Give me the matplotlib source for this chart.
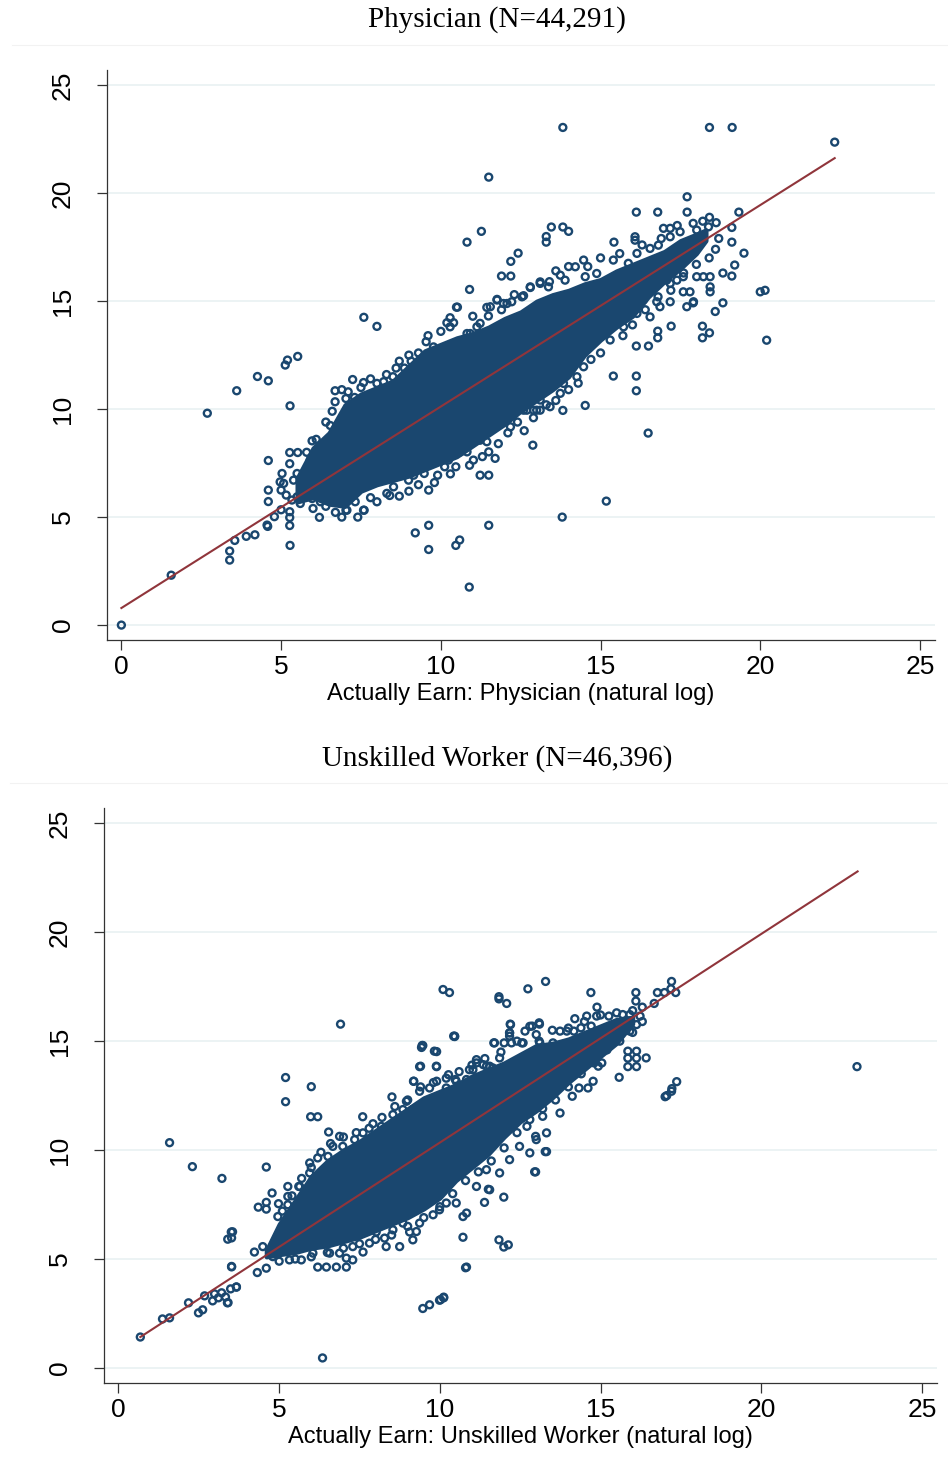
import numpy as np
import matplotlib
matplotlib.use('Agg')
import matplotlib.pyplot as plt
from matplotlib.lines import Line2D

plt.rcParams['font.family'] = ['Liberation Sans', 'DejaVu Sans']

NAVY = '#1a476f'
MAROON = '#90353b'
GRID = '#eaf2f3'

# ---------------- Physician panel ----------------
phys_title = 'Physician (N=44,291)'
phys_xlabel = 'Actually Earn: Physician (natural log)'

# dense core of the cloud (x, lower edge, upper edge)
phys_core_x = [5.5, 6.0, 6.5, 7.0, 7.5, 8.0, 8.5, 9.0, 9.5, 10.0, 10.5, 11.0, 11.5, 12.0,
               12.5, 13.0, 13.5, 14.0, 14.5, 15.0, 15.5, 16.0, 16.5, 17.0, 17.5, 18.0, 18.3]
phys_core_lo = [5.7, 5.9, 5.6, 5.5, 6.2, 6.5, 6.7, 6.9, 7.2, 7.5, 7.8, 8.3, 8.8, 9.3,
                9.9, 10.4, 10.9, 11.5, 12.5, 13.2, 13.8, 14.3, 15.2, 15.9, 16.5, 17.2, 17.8]
phys_core_hi = [6.8, 8.2, 8.9, 10.2, 10.7, 11.0, 11.3, 12.0, 12.7, 13.0, 13.3, 13.5, 13.8, 14.2,
                14.5, 15.0, 15.3, 15.5, 15.8, 16.0, 16.4, 16.7, 17.0, 17.3, 17.8, 18.1, 18.3]

# individual observations around and outside the core
phys_pts = [
    (0.0, 0.0), (1.56, 2.31), (2.69, 9.81), (3.61, 10.85), (4.26, 11.51), (4.6, 11.31),
    (3.39, 3.43), (3.39, 3.01), (3.55, 3.92), (3.91, 4.11), (4.18, 4.18),
    (4.56, 4.63), (4.58, 4.57), (5.28, 3.69), (5.27, 4.61), (5.27, 4.98), (5.27, 5.25),
    (4.79, 5.02), (5.0, 5.34), (4.6, 5.72), (4.6, 6.25), (4.6, 7.62), (5.27, 7.47),
    (5.27, 7.99), (5.52, 7.99), (5.28, 10.15), (5.13, 12.04), (5.2, 12.27), (5.52, 12.44),
    (7.59, 14.25), (8.0, 13.83), (10.9, 15.54),
    (9.2, 4.27), (9.62, 4.62), (9.62, 3.5), (10.47, 3.69), (10.59, 3.94), (11.5, 4.62),
    (12.88, 8.33), (12.61, 9.0), (12.18, 9.18), (10.89, 1.76), (15.18, 5.74), (13.8, 5.0),
    (16.49, 8.89), (20.15, 15.5), (20.2, 13.19),
    (13.82, 23.04), (18.41, 23.04), (19.12, 23.04), (22.33, 22.36), (11.5, 20.74),
    (17.71, 19.83), (16.12, 19.12), (16.79, 19.12), (17.71, 19.12), (19.33, 19.12),
    (11.27, 18.23), (10.82, 17.73), (13.46, 18.43), (13.82, 18.43), (14.0, 18.23),
    (13.3, 17.99), (13.3, 17.73), (12.42, 17.22), (12.19, 16.84), (11.9, 16.16),
    (12.19, 16.16), (10.49, 14.72), (15.42, 17.73),
    (18.41, 18.88), (18.62, 18.63), (19.11, 18.41), (19.11, 17.73), (19.49, 17.22),
    (19.2, 16.67), (19.11, 16.16), (18.83, 16.3), (20.0, 15.43),
    (18.83, 14.92), (18.59, 14.52), (18.19, 13.84), (18.41, 13.53), (18.19, 13.3),
    (17.9, 14.92), (17.7, 14.74), (17.21, 13.84), (16.79, 13.61), (16.79, 13.3),
    (16.5, 12.92), (16.12, 12.92), (15.4, 11.53), (16.12, 11.53), (16.12, 10.85),
    (14.52, 10.17), (13.82, 9.94),
    # upper halo, left half
    (5.97, 8.53), (6.0, 7.79), (6.2, 8.02), (6.54, 9.24), (6.69, 10.85), (6.69, 10.34),
    (7.03, 10.49), (7.3, 10.54), (7.24, 11.37), (7.58, 11.23), (8.0, 11.19), (8.21, 11.27),
    (8.5, 11.5), (8.7, 12.22), (9.07, 12.22), (8.86, 11.9), (9.54, 13.12), (9.77, 12.88),
    (10.19, 14.0), (10.29, 14.23), (10.52, 14.72), (10.82, 13.5), (11.13, 13.81),
    (11.44, 14.71), (11.49, 14.31), (11.76, 15.08), (12.07, 14.89), (12.59, 15.25),
    (12.8, 15.63), (13.11, 15.82),
    (5.8, 8.0), (6.1, 8.6), (6.4, 9.4), (6.6, 9.9), (6.9, 10.9), (7.1, 10.8), (7.5, 11.0),
    (7.8, 11.4), (8.3, 11.6), (8.6, 11.9), (9.0, 12.5), (9.3, 12.6), (9.6, 13.4),
    (10.0, 13.6), (10.4, 14.0), (11.0, 14.3), (11.9, 14.6), (12.3, 15.3),
    # lower halo, left half
    (5.91, 7.64), (5.97, 7.18), (6.17, 6.48), (6.43, 6.1), (6.69, 6.71), (6.75, 5.94),
    (7.06, 5.32), (7.32, 5.71), (7.58, 5.32), (7.9, 6.63), (8.16, 6.71), (8.31, 6.1),
    (8.52, 6.4), (8.7, 5.97), (8.99, 6.71), (9.15, 6.94), (9.48, 7.02), (9.62, 6.25),
    (9.9, 6.94), (10.12, 7.33), (10.24, 7.64), (10.47, 7.33), (10.61, 8.02), (10.82, 8.02),
    (11.02, 7.64), (11.23, 6.94), (11.5, 6.94), (11.5, 8.02), (11.7, 7.72), (11.91, 9.64),
    (12.17, 9.95), (12.59, 9.95), (12.9, 9.95), (13.11, 9.95), (13.11, 10.42),
    (11.44, 8.49), (11.23, 8.56), (10.71, 8.56), (11.13, 9.03), (6.2, 4.99), (6.7, 5.22),
    (7.03, 5.32), (7.6, 5.32), (8.0, 5.71),
    (5.03, 7.02), (5.08, 6.56), (5.0, 6.25), (5.16, 6.02), (5.34, 5.79), (5.39, 6.71),
    (5.5, 7.02), (5.6, 6.71), (5.7, 7.02), (4.97, 6.63), (5.97, 5.86), (6.23, 5.71),
    (5.6, 5.63), (5.5, 5.94),
    (6.0, 5.4), (6.4, 5.5), (6.9, 5.0), (7.4, 5.0), (7.8, 5.9), (8.4, 6.0), (9.0, 6.2),
    (9.3, 6.5), (9.8, 6.6), (10.3, 7.0), (10.9, 7.4), (11.3, 7.8), (11.8, 8.4), (12.1, 8.9),
    (12.4, 9.4), (12.9, 9.6), (13.3, 10.2), (13.6, 10.4),
    # upper halo, right half
    (11.76, 15.05), (11.96, 14.89), (12.22, 14.97), (12.54, 15.2), (12.8, 15.66),
    (13.11, 15.89), (13.37, 15.66), (13.74, 16.2), (13.89, 15.97), (14.21, 16.59),
    (14.47, 16.9), (14.52, 16.13), (14.88, 16.28), (15.4, 16.9), (15.87, 16.75),
    (16.14, 17.21), (16.55, 17.44), (16.81, 17.59), (17.18, 17.98), (17.49, 18.21),
    (18.01, 18.29), (18.38, 18.44), (17.18, 18.37), (16.97, 18.37), (16.08, 17.98),
    (16.08, 17.82), (11.55, 14.74), (11.23, 13.97), (10.92, 13.5), (10.71, 12.73),
    (10.5, 12.73), (10.29, 13.81),
    (13.4, 15.9), (13.6, 16.4), (14.0, 16.6), (14.6, 16.6), (15.0, 17.0), (15.6, 17.2),
    (16.3, 17.6), (16.9, 17.9), (17.4, 18.5), (17.9, 18.6), (18.2, 18.7),
    # lower halo, right half
    (16.76, 16.13), (17.07, 15.97), (17.59, 16.13), (18.01, 16.13), (18.22, 16.13),
    (18.43, 16.13), (18.43, 15.66), (18.43, 15.43), (17.59, 15.43), (17.8, 15.43),
    (17.91, 14.97), (17.18, 14.97), (16.76, 14.97), (16.34, 15.05), (16.14, 14.43),
    (15.72, 13.81), (15.3, 13.81), (14.88, 13.5), (14.57, 13.5), (14.47, 12.88),
    (14.47, 11.96), (14.26, 11.5), (13.84, 11.19), (13.74, 10.73), (13.42, 10.11),
    (12.69, 9.95), (13.0, 9.95), (12.38, 9.95), (12.07, 9.64), (11.55, 9.8),
    (17.18, 15.82), (17.39, 15.97), (16.55, 14.27), (16.86, 14.74),
    (14.0, 10.9), (14.3, 11.2), (14.7, 12.3), (15.0, 12.6), (15.3, 13.2), (15.7, 13.4),
    (16.0, 13.9), (16.4, 14.6), (16.8, 15.2), (17.2, 15.5), (17.6, 16.3), (18.0, 16.7),
    (18.4, 17.0), (18.6, 17.4), (18.7, 17.9),
]
phys_fit_x = [0.0, 22.33]
phys_fit_y = [0.79, 21.62]

# ---------------- Unskilled worker panel ----------------
unsk_title = 'Unskilled Worker (N=46,396)'
unsk_xlabel = 'Actually Earn: Unskilled Worker (natural log)'

unsk_core_x = [4.6, 5.0, 5.5, 6.0, 6.5, 7.0, 7.5, 8.0, 8.5, 9.0, 9.5, 10.0, 10.5, 11.0,
               11.5, 12.0, 12.5, 13.0, 13.5, 14.0, 14.5, 15.0, 15.5, 16.0]
unsk_core_lo = [5.1, 5.2, 5.3, 5.5, 5.6, 5.8, 6.0, 6.3, 6.6, 6.9, 7.3, 7.8, 8.6, 9.2,
                9.8, 10.6, 11.3, 11.8, 12.4, 13.1, 13.7, 14.3, 14.9, 15.8]
unsk_core_hi = [5.4, 6.6, 7.7, 8.8, 9.5, 10.0, 10.4, 10.9, 11.4, 11.9, 12.4, 12.7, 13.0, 13.4,
                13.7, 14.0, 14.4, 14.8, 14.9, 15.1, 15.4, 15.7, 16.0, 16.1]

unsk_pts = [
    (0.68, 1.42), (1.37, 2.25), (1.59, 2.3), (1.59, 10.34), (2.3, 9.24), (3.22, 8.7),
    (2.18, 2.99), (2.49, 2.53), (2.62, 2.67), (2.68, 3.31), (2.93, 3.08), (2.99, 3.4),
    (3.21, 3.45), (3.33, 3.26), (3.39, 2.99), (3.49, 3.63), (3.67, 3.72), (3.11, 3.22),
    (3.52, 5.97), (3.55, 6.25), (3.52, 4.64),
    (6.91, 15.78), (5.2, 13.33), (5.2, 12.22), (6.0, 12.91), (5.98, 11.53), (6.2, 11.53),
    (6.35, 0.46), (9.68, 2.9), (10.02, 3.13), (10.12, 3.22), (10.8, 4.6), (22.98, 13.83),
    (17.06, 12.5), (17.22, 12.82), (17.37, 13.14), (12.95, 9.0), (13.32, 9.93),
    (10.1, 17.37), (10.3, 17.23), (11.84, 17.04), (11.84, 16.94), (12.08, 16.73),
    (12.74, 17.4), (13.29, 17.74), (14.7, 17.23), (14.89, 16.56), (14.2, 16.03),
    (14.57, 16.15), (16.1, 17.23), (16.1, 16.84), (16.3, 16.56), (16.77, 17.23),
    (16.99, 17.23), (17.21, 17.74), (17.19, 17.4), (17.34, 17.23), (16.67, 16.73),
    (15.85, 14.54), (16.12, 14.54), (15.85, 14.22), (16.12, 14.22), (16.42, 14.23),
    (15.85, 13.83), (16.12, 13.83), (15.58, 13.34), (17.01, 12.45), (17.21, 12.7),
    (10.46, 15.21), (9.43, 14.71),
    (6.54, 10.83), (7.6, 11.53), (4.6, 9.22), (3.51, 6.24), (3.4, 5.91), (3.52, 4.66),
    (3.67, 3.71), (3.41, 3.0), (4.6, 7.6), (4.35, 7.38), (4.6, 7.29), (4.78, 8.03),
    (4.23, 5.32), (4.32, 4.38), (4.6, 4.58), (5.27, 8.33), (5.61, 8.33), (5.27, 7.87),
    (4.98, 7.54),
    (6.2, 4.63), (6.47, 4.63), (6.78, 4.63), (7.09, 4.63), (9.47, 2.73), (9.99, 3.11),
    (10.12, 3.25), (10.83, 4.63), (10.72, 6.0), (11.84, 5.88), (11.99, 5.55), (12.13, 5.65),
    (11.99, 7.84), (12.98, 9.0), (13.28, 9.93), (11.39, 7.6), (11.51, 8.2),
    (9.45, 14.8), (9.9, 14.52), (10.46, 15.23), (9.37, 13.83), (9.9, 13.83), (8.51, 12.44),
    (9.19, 13.16), (9.9, 13.16), (12.19, 15.78), (13.1, 15.78), (11.7, 14.92), (12.17, 15.38),
    # upper halo, left half
    (4.96, 6.95), (5.27, 7.49), (5.64, 8.33), (5.95, 8.95), (5.95, 9.41), (6.2, 9.64),
    (6.52, 9.71), (6.67, 10.17), (6.88, 10.63), (6.98, 10.17), (7.35, 10.48), (7.61, 10.79),
    (7.92, 11.21), (8.18, 11.09), (8.54, 11.63), (8.85, 11.86), (8.96, 12.24), (9.16, 11.86),
    (9.37, 12.7), (9.68, 12.85), (9.79, 12.32), (10.2, 12.85), (10.51, 13.16), (10.83, 13.24),
    (11.14, 14.0), (11.45, 13.85), (11.65, 13.77), (11.86, 14.23), (12.17, 15.38),
    (12.23, 14.92), (12.59, 14.92), (12.8, 15.68), (13.11, 14.92), (12.9, 13.85),
    (12.48, 13.85), (11.55, 13.85),
    (5.1, 7.2), (5.4, 7.9), (5.7, 8.7), (6.0, 9.2), (6.3, 9.9), (6.6, 10.3), (7.0, 10.6),
    (7.4, 10.8), (7.8, 11.0), (8.2, 11.5), (8.6, 12.0), (9.0, 12.3), (9.4, 12.9),
    (9.8, 13.1), (10.2, 13.3), (10.6, 13.6), (11.0, 13.9), (11.4, 14.2),
    # lower halo, left half
    (4.49, 5.57), (4.8, 5.11), (5.32, 4.96), (5.69, 4.96), (6.05, 5.27), (6.57, 5.27),
    (6.88, 5.27), (7.29, 5.57), (7.61, 5.32), (7.81, 5.73), (8.02, 6.24), (8.28, 5.96),
    (8.54, 6.34), (8.85, 6.65), (9.06, 6.24), (9.27, 6.26), (9.37, 6.65), (9.79, 7.03),
    (9.99, 7.26), (10.2, 7.57), (10.51, 7.57), (10.72, 6.95), (10.83, 7.11), (11.14, 8.33),
    (11.45, 9.1), (11.55, 8.18), (11.86, 8.95), (12.17, 9.56), (12.48, 10.17), (12.8, 9.87),
    (13.0, 10.48), (13.32, 10.79), (9.16, 5.88), (8.75, 5.57), (8.33, 5.57), (7.29, 4.96),
    (7.09, 5.04), (6.88, 6.34), (6.57, 6.19),
    (5.0, 4.9), (5.5, 5.0), (6.0, 5.1), (6.5, 5.3), (7.0, 5.5), (7.5, 5.7), (8.0, 5.9),
    (8.5, 6.1), (9.0, 6.5), (9.5, 6.9), (10.0, 7.4), (10.4, 8.0), (10.8, 8.6), (11.2, 9.0),
    (11.6, 9.5), (12.0, 10.1), (12.4, 10.8), (12.8, 11.4),
    # upper halo, right half
    (11.68, 14.92), (12.0, 14.92), (12.17, 15.23), (12.2, 15.76), (12.55, 14.92),
    (12.65, 15.46), (12.87, 15.69), (13.09, 15.84), (13.09, 15.0), (13.52, 14.92),
    (13.74, 15.46), (13.95, 15.46), (14.17, 15.46), (14.39, 15.61), (14.71, 15.69),
    (14.88, 16.15), (15.26, 16.15), (15.69, 16.22), (15.91, 16.22), (16.23, 16.15),
    (11.14, 14.15), (10.92, 13.69), (10.48, 13.24), (10.27, 13.46), (9.89, 13.85),
    (9.4, 13.85), (9.18, 13.16), (9.83, 14.54), (9.47, 14.8), (10.43, 15.23),
    (11.03, 13.69), (11.35, 13.92),
    (11.9, 14.5), (12.4, 15.0), (13.0, 15.3), (13.5, 15.5), (14.0, 15.6), (14.5, 15.9),
    (15.0, 16.2), (15.5, 16.3), (16.0, 16.4),
    # lower halo, right half
    (16.12, 15.76), (15.91, 15.46), (15.47, 15.38), (15.26, 15.07), (15.04, 14.76),
    (14.82, 14.46), (14.61, 14.31), (14.17, 14.15), (13.85, 13.69), (13.3, 13.16),
    (13.09, 12.7), (12.87, 12.47), (12.65, 11.86), (12.22, 11.25), (12.0, 10.79),
    (11.46, 10.4), (11.24, 10.17), (15.04, 14.0), (14.93, 13.85), (14.77, 13.16),
    (14.61, 12.85), (14.33, 12.85), (14.12, 12.47), (13.74, 11.7), (13.2, 11.55),
    (12.98, 10.63), (12.71, 11.09),
    (13.2, 11.9), (13.6, 12.3), (14.0, 12.9), (14.4, 13.5), (14.8, 14.0), (15.2, 14.6),
    (15.6, 15.0), (16.0, 15.4), (16.3, 15.9),
]
unsk_fit_x = [0.68, 23.0]
unsk_fit_y = [1.42, 22.79]

ticks = [0, 5, 10, 15, 20, 25]


def draw_panel(ax, core_x, core_lo, core_hi, pts, fit_x, fit_y, xlabel):
    ax.set_xlim(-0.45, 25.47)
    ax.set_ylim(-0.69, 25.7)
    for t in ticks:
        ax.axhline(t, color=GRID, lw=1.3, zorder=0)
    ax.fill_between(core_x, core_lo, core_hi, color=NAVY, lw=3, edgecolor=NAVY, zorder=2)
    px = np.array([p[0] for p in pts])
    py = np.array([p[1] for p in pts])
    ax.scatter(px, py, s=25, facecolors='none', edgecolors=NAVY, linewidths=1.7, zorder=3)
    ax.plot(fit_x, fit_y, color=MAROON, lw=1.5, zorder=4)

    ax.set_xticks(ticks)
    ax.set_yticks(ticks)
    ax.set_xticklabels([str(t) for t in ticks], fontsize=19)
    ax.set_yticklabels([str(t) for t in ticks], fontsize=19, rotation=90, va='center')
    ax.tick_params(direction='out', length=7, width=0.9, color='#333333')
    ax.tick_params(axis='x', pad=4)
    ax.tick_params(axis='y', pad=16)
    ax.spines['top'].set_visible(False)
    ax.spines['right'].set_visible(False)
    ax.spines['left'].set_color('#333333')
    ax.spines['bottom'].set_color('#333333')
    ax.spines['left'].set_linewidth(0.9)
    ax.spines['bottom'].set_linewidth(0.9)
    ax.set_xlabel(xlabel, fontsize=17, labelpad=3)


fig = plt.figure(figsize=(9.48, 14.68), dpi=100)

ax1 = fig.add_axes([107 / 948, 1 - 640 / 1468, 828 / 948, 570 / 1468])
draw_panel(ax1, phys_core_x, phys_core_lo, phys_core_hi, phys_pts,
           phys_fit_x, phys_fit_y, phys_xlabel)

ax2 = fig.add_axes([104 / 948, 1 - 1383 / 1468, 833 / 948, 575 / 1468])
draw_panel(ax2, unsk_core_x, unsk_core_lo, unsk_core_hi, unsk_pts,
           unsk_fit_x, unsk_fit_y, unsk_xlabel)

serif = ['Liberation Serif', 'DejaVu Serif']
fig.text(497 / 948, 1 - 20 / 1468, phys_title, ha='center', va='center',
         fontsize=21, family=serif)
fig.text(497 / 948, 1 - 759 / 1468, unsk_title, ha='center', va='center',
         fontsize=21, family=serif)

# faint separators under the subgraph titles
fig.add_artist(Line2D([12 / 948, 1.0], [1 - 45 / 1468] * 2, color='#f2f2f2', lw=0.8))
fig.add_artist(Line2D([10 / 948, 1.0], [1 - 783 / 1468] * 2, color='#f2f2f2', lw=0.8))

fig.savefig('out.png', dpi=100)
